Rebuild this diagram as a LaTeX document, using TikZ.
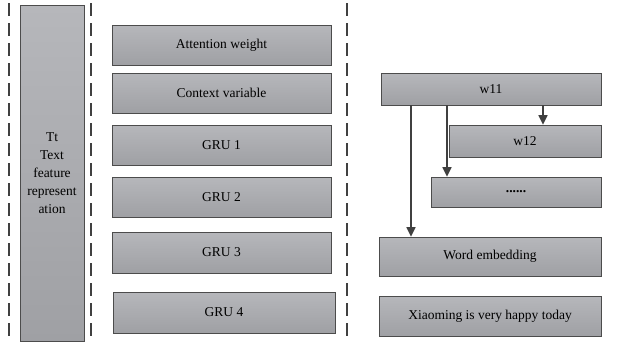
\documentclass[tikz,border=0pt]{standalone}
\usepackage{fontspec}
\setmainfont{Liberation Serif}
\usetikzlibrary{arrows.meta}
\begin{document}
\begin{tikzpicture}[x=1pt,y=-1pt,
  gbox/.style={draw=black!70,line width=0.8pt,top color=gTop,bottom color=gBot,inner sep=0pt,
    font=\fontsize{13.5}{18}\selectfont,align=center},
  dashline/.style={draw=black!75,line width=1.6pt,dash pattern=on 13pt off 7pt},
  arr/.style={draw=black!75,line width=1.6pt,-{Triangle[length=9.5pt,width=9pt]}}]
\definecolor{gTop}{HTML}{B6B7BB}
\definecolor{gBot}{HTML}{9FA0A4}
\useasboundingbox (0,0) rectangle (621,343);
% dashed separators
\coordinate (d1a) at (9,3); \coordinate (d1b) at (9,343);
\coordinate (d2a) at (91,3); \coordinate (d2b) at (91,343);
\coordinate (d3a) at (347,3); \coordinate (d3b) at (347,343);
\draw[dashline] (d1a) -- (d1b);
\draw[dashline] (d2a) -- (d2b);
\draw[dashline] (d3a) -- (d3b);
% left tall box
\node[gbox,minimum width=64pt,minimum height=336pt] (tt) at (52,173) {Tt\\Text\\feature\\represent\\ation};
% middle column
\node[gbox,minimum width=219pt,minimum height=40pt] (att) at (221.5,45) {Attention weight};
\node[gbox,minimum width=219pt,minimum height=40pt] (ctx) at (221.5,93) {Context variable};
\node[gbox,minimum width=219pt,minimum height=40pt] (g1) at (221.5,145) {GRU 1};
\node[gbox,minimum width=219pt,minimum height=40pt] (g2) at (221.5,197) {GRU 2};
\node[gbox,minimum width=219pt,minimum height=41pt] (g3) at (221.5,252.5) {GRU 3};
\node[gbox,minimum width=222pt,minimum height=41pt] (g4) at (224,312.5) {GRU 4};
% right column
\node[gbox,minimum width=220pt,minimum height=32pt] (w11) at (491,89) {w11};
\node[gbox,minimum width=152pt,minimum height=32pt] (w12) at (525,141) {w12};
\node[gbox,minimum width=170pt,minimum height=30pt] (dots) at (516,192) {\textbf{......}};
\node[gbox,minimum width=222pt,minimum height=39pt] (we) at (490,256.5) {Word embedding};
\node[gbox,minimum width=222pt,minimum height=40pt] (xm) at (490,316) {Xiaoming is very happy today};
% arrows
\draw[arr] (w11.south -| 543,0) -- (w12.north -| 543,0);
\draw[arr] (w11.south -| 447,0) -- (dots.north -| 447,0);
\draw[arr] (w11.south -| 411,0) -- (we.north -| 411,0);
\end{tikzpicture}
\end{document}
